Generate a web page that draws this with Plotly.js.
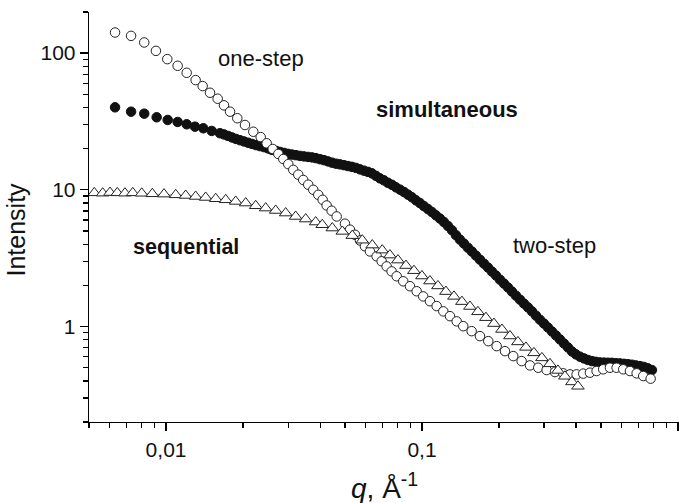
<!DOCTYPE html>
<html>
<head>
<meta charset="utf-8">
<script src="https://cdn.plot.ly/plotly-3.0.1.min.js"></script>
<style>
html,body{margin:0;padding:0;background:#fff;}
#chart{width:679px;height:503px;}
</style>
</head>
<body>
<div id="chart"></div>
<script>
// one-step (open circles)
const oneStepQ = [0.00632,0.00730,0.00822,0.00913,0.01011,0.01110,0.01204,0.01305,0.01390,0.01485,
  0.01591,0.01684,0.01778,0.01898,0.02034,0.02192,0.02343,0.02472,0.02610,0.02745,
  0.02871,0.03003,0.03141,0.03285,0.03436,0.03593,0.03760,0.03933,0.04091,0.04241,
  0.04436,0.04641,0.0500,0.05231,0.05472,0.05723,0.05985,0.06261,0.06648,0.06955,
  0.07275,0.07608,0.07962,0.08446,0.08973,0.09530,0.1011,0.1074,0.1141,0.1211,
  0.1286,0.1366,0.1449,0.1563,0.1684,0.1815,0.1957,0.2109,0.2272,0.2450,
  0.2641,0.2845,0.3068,0.3306,0.3562,0.3785,0.4018,0.4265,0.4529,0.4810,
  0.5105,0.5422,0.5757,0.6111,0.6492,0.6896,0.7315,0.7819];
const oneStepI = [141.6,133.8,119.7,103.9,90.4,80.8,71.8,63.5,57.4,51.3,
  46.4,41.5,37.3,33.4,29.8,26.6,24.3,21.9,19.9,18.3,
  16.8,15.4,14.0,12.9,11.8,10.9,10.0,9.19,8.45,7.68,
  7.03,6.38,5.65,5.11,4.69,4.26,3.86,3.54,3.26,3.00,
  2.75,2.53,2.33,2.14,1.97,1.81,1.66,1.53,1.41,1.29,
  1.19,1.09,1.005,0.924,0.850,0.781,0.718,0.660,0.607,0.558,
  0.519,0.499,0.480,0.464,0.454,0.446,0.446,0.452,0.459,0.472,
  0.486,0.499,0.499,0.486,0.472,0.454,0.434,0.415];

// simultaneous / two-step (filled circles)
const simulQ = [0.00632,0.00730,0.00822,0.00919,0.01015,0.01110,0.01204,0.01297,0.01398,0.01508,0.01624,
  0.01684,0.01746,0.01810,0.01876,0.01945,0.02016,0.02090,0.02167,0.02246,0.02328,
  0.02414,0.02502,0.02594,0.02689,0.02787,0.02889,0.02995,0.03105,0.03219,0.03336,
  0.03458,0.03585,0.03716,0.03852,0.03993,0.04140,0.04291,0.04448,0.04611,0.04780,
  0.04955,0.05137,0.05325,0.05520,0.05722,0.05931,0.06149,0.06374,0.06607,0.06849,
  0.07100,0.07361,0.07630,0.07910,0.08199,0.08500,0.08811,0.09134,0.09468,0.09815,
  0.1017,0.1055,0.1093,0.1133,0.1175,0.1218,0.1262,0.1309,0.1357,0.1406,
  0.1458,0.1511,0.1567,0.1624,0.1684,0.1746,0.1810,0.1876,0.1945,0.2016,
  0.2090,0.2167,0.2246,0.2328,0.2414,0.2502,0.2594,0.2689,0.2787,0.2889,
  0.2995,0.3105,0.3219,0.3336,0.3458,0.3585,0.3716,0.3852,0.3993,0.4140,
  0.4291,0.4448,0.4611,0.4780,0.4955,0.5137,0.5325,0.5520,0.5722,0.5931,
  0.6149,0.6374,0.6607,0.6849,0.7100,0.7361,0.7630,0.7910];
const simulI = [40.14,37.28,36.06,33.94,32.43,31.36,30.17,28.97,28.20,26.96,25.94,
  25.42,24.79,24.17,23.57,23.06,22.59,22.11,21.67,21.23,20.88,
  20.53,20.09,19.59,19.27,18.94,18.63,18.32,18.10,17.92,17.71,
  17.56,17.41,17.27,17.04,16.75,16.48,16.14,15.80,15.53,15.35,
  15.15,14.92,14.72,14.47,14.11,13.81,13.53,13.20,12.65,12.13,
  11.73,11.25,10.88,10.43,10.03,9.64,9.22,8.82,8.38,8.00,
  7.60,7.23,6.88,6.51,6.16,5.81,5.44,5.06,4.66,4.32,
  4.04,3.77,3.53,3.30,3.08,2.88,2.70,2.52,2.36,2.20,
  2.06,1.93,1.80,1.68,1.57,1.47,1.38,1.29,1.20,1.12,
  1.05,0.983,0.919,0.860,0.804,0.751,0.703,0.657,0.625,0.601,
  0.584,0.569,0.558,0.551,0.546,0.544,0.543,0.542,0.539,0.537,
  0.533,0.530,0.525,0.519,0.513,0.506,0.494,0.480];

// sequential (open triangles)
const seqQ = [0.005244,0.005656,0.006039,0.006447,0.006910,0.007409,0.008034,0.008837,0.009817,0.01091,
  0.01193,0.01305,0.01428,0.01563,0.01710,0.01871,0.02047,0.02240,0.02450,0.02681,
  0.02934,0.03209,0.03511,0.03841,0.04076,0.04461,0.04882,0.05340,0.05843,0.06391,
  0.06992,0.07494,0.08054,0.08656,0.09300,0.09995,0.1074,0.1154,0.1240,0.1333,
  0.1432,0.1539,0.1654,0.1777,0.1910,0.2053,0.2206,0.2370,0.2547,0.2737,
  0.2941,0.3161,0.3396,0.3617,0.3852,0.4066];
const seqI = [9.50,9.45,9.55,9.50,9.45,9.50,9.43,9.35,9.30,9.19,
  9.09,8.94,8.79,8.60,8.45,8.22,8.00,7.64,7.35,7.06,
  6.76,6.38,6.11,5.81,5.55,5.25,4.96,4.62,4.28,3.94,
  3.62,3.33,3.06,2.79,2.56,2.34,2.15,1.98,1.80,1.66,
  1.52,1.40,1.28,1.16,1.05,0.951,0.852,0.771,0.703,0.641,
  0.589,0.533,0.477,0.432,0.393,0.365];

// axis ticks
const xTickVals = [0.01, 0.1, 1];
const xTickText = ['0,01', '0,1', '1'];
const yTickVals = [1, 10, 100];
const yTickText = ['1', '10', '100'];

// annotations
const labels = ['one-step', 'simultaneous', 'sequential', 'two-step'];

function minorTicks(decades) {
  const out = [];
  decades.forEach(function (d) {
    for (let k = 2; k <= 9; k++) out.push(k * d);
  });
  return out;
}
const xMinor = [0.005, 0.006, 0.007, 0.008, 0.009].concat(minorTicks([0.01, 0.1]));
const yMinor = minorTicks([0.1, 1, 10]).filter(v => v >= 0.2).concat([200]);

const FONT = 'Liberation Sans, Arial, Helvetica, sans-serif';
const TXT = '#111';

const traces = [
  {
    x: simulQ, y: simulI, type: 'scatter', mode: 'markers', name: 'simultaneous',
    marker: {symbol: 'circle', size: 9.5, color: '#111', line: {color: '#111', width: 1}},
    hoverinfo: 'x+y'
  },
  {
    x: oneStepQ, y: oneStepI, type: 'scatter', mode: 'markers', name: 'one-step',
    marker: {symbol: 'circle', size: 9.5, color: '#fff', line: {color: '#222', width: 1}},
    hoverinfo: 'x+y'
  },
  {
    x: seqQ, y: seqI, type: 'scatter', mode: 'lines+markers', name: 'sequential',
    line: {color: '#999', width: 1},
    marker: {symbol: 'triangle-up', size: 11, color: '#fff', line: {color: '#222', width: 1}},
    hoverinfo: 'x+y'
  }
];

const axisCommon = {
  type: 'log',
  showline: true, linecolor: '#000', linewidth: 1.3,
  mirror: false, showgrid: false, zeroline: false,
  ticks: 'outside', ticklen: 8, tickwidth: 1.3, tickcolor: '#000',
  tickmode: 'array',
  tickfont: {family: FONT, size: 21, color: TXT}
};

const layout = {
  width: 679, height: 503,
  margin: {l: 89, r: 0, t: 12, b: 81, pad: 0},
  paper_bgcolor: '#fff', plot_bgcolor: '#fff',
  showlegend: false,
  font: {family: FONT, color: TXT},
  xaxis: Object.assign({}, axisCommon, {
    range: [Math.log10(0.005), 0.004],
    tickvals: xTickVals, ticktext: xTickText,
    minor: {tickmode: 'array', tickvals: xMinor, ticks: 'outside', ticklen: 4.5, tickwidth: 1.3, tickcolor: '#000', showgrid: false}
  }),
  yaxis: Object.assign({}, axisCommon, {
    range: [Math.log10(0.2), Math.log10(200)],
    tickvals: yTickVals, ticktext: yTickText,
    minor: {tickmode: 'array', tickvals: yMinor, ticks: 'outside', ticklen: 4.5, tickwidth: 1.3, tickcolor: '#000', showgrid: false}
  }),
  annotations: [
    {text: labels[0], xref: 'paper', yref: 'paper', x: 0.2907, y: 0.8854, xanchor: 'center', yanchor: 'middle', showarrow: false, font: {family: FONT, size: 22, color: TXT}},
    {text: '<b>' + labels[1] + '</b>', xref: 'paper', yref: 'paper', x: 0.6068, y: 0.761, xanchor: 'center', yanchor: 'middle', showarrow: false, font: {family: FONT, size: 22, color: TXT}},
    {text: '<b>' + labels[2] + '</b>', xref: 'paper', yref: 'paper', x: 0.1636, y: 0.4268, xanchor: 'center', yanchor: 'middle', showarrow: false, font: {family: FONT, size: 21.5, color: TXT}},
    {text: labels[3], xref: 'paper', yref: 'paper', x: 0.7893, y: 0.4317, xanchor: 'center', yanchor: 'middle', showarrow: false, font: {family: FONT, size: 22, color: TXT}},
    {text: 'Intensity', xref: 'paper', yref: 'paper', x: -0.1254, y: 0.4695, xanchor: 'center', yanchor: 'middle', textangle: -90, showarrow: false, font: {family: FONT, size: 25, color: TXT}},
    {text: '<i>q</i>, Å<sup>-1</sup>', xref: 'paper', yref: 'paper', x: 0.5, y: -0.156, xanchor: 'center', yanchor: 'middle', showarrow: false, font: {family: FONT, size: 28, color: TXT}}
  ]
};

Plotly.newPlot('chart', traces, layout, {displayModeBar: false, staticPlot: true});
</script>
</body>
</html>
